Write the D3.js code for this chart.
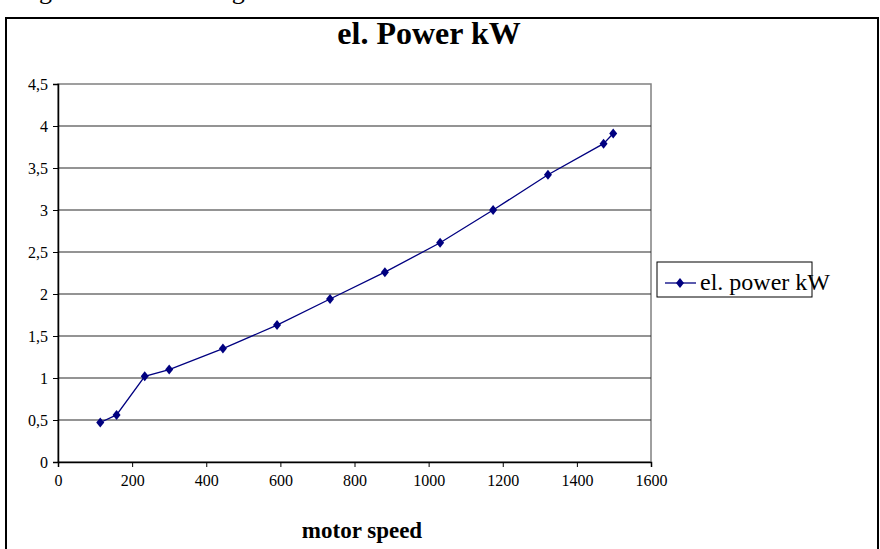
<!DOCTYPE html>
<html>
<head>
<meta charset="utf-8">
<script src="https://cdn.jsdelivr.net/npm/d3@7"></script>
<style>
  body { margin: 0; background: #fff; }
</style>
</head>
<body>
<div id="chart"></div>
<script>
// data
var motorSpeed = [114, 158, 234, 300, 445, 591, 734, 882, 1031, 1174, 1322, 1472, 1498]
var elPower = [0.47, 0.56, 1.02, 1.10, 1.35, 1.63, 1.94, 2.26, 2.61, 3.00, 3.42, 3.79, 3.91]
var xTicks = [0, 200, 400, 600, 800, 1000, 1200, 1400, 1600]
var yTicks = [0, 0.5, 1, 1.5, 2, 2.5, 3, 3.5, 4, 4.5]
var seriesName = "el. power kW"

var data = motorSpeed.map(function(s, i) { return {ser1: s, ser2: elPower[i]} })

var W = 880, H = 549
var plot = {left: 58, right: 651, top: 84, bottom: 462}
var serif = "'Liberation Serif', 'Times New Roman', serif"

var svg = d3.select("#chart")
  .append("svg")
    .attr("width", W)
    .attr("height", H)
    .style("font-family", serif)

// caption above the frame, only its lower part shows (cut off like in the original)
svg.append("text")
  .attr("x", -10)
  .attr("y", -1)
  .style("font-family", serif)
  .attr("font-size", 26)
  .text("Using the electrical drag")

// outer frame
svg.append("rect")
  .attr("x", 6).attr("y", 18)
  .attr("width", 872).attr("height", 560)
  .attr("fill", "#fff")
  .attr("stroke", "#000")
  .attr("stroke-width", 2)

var x = d3.scaleLinear().domain([0, 1600]).range([plot.left, plot.right])
var y = d3.scaleLinear().domain([0, 4.5]).range([plot.bottom, plot.top])

var fmt = function(d) { return String(d).replace(".", ",") }

// plot area border (gray right/top)
svg.append("rect")
  .attr("x", plot.left).attr("y", plot.top)
  .attr("width", plot.right - plot.left).attr("height", plot.bottom - plot.top)
  .attr("fill", "none")
  .attr("stroke", "#808080")
  .attr("stroke-width", 1.5)

// gridlines
svg.append("g")
  .selectAll("line")
  .data(yTicks.filter(function(d) { return d > 0 && d < 4.5 }))
  .enter().append("line")
    .attr("x1", plot.left).attr("x2", plot.right)
    .attr("y1", function(d) { return y(d) }).attr("y2", function(d) { return y(d) })
    .attr("stroke", "#2a2a2a")
    .attr("stroke-width", 1.2)

// y axis
var yAxis = svg.append("g")
  .attr("transform", "translate(" + plot.left + ",0)")
  .call(d3.axisLeft(y).tickValues(yTicks).tickFormat(fmt).tickSize(5).tickPadding(5))
yAxis.attr("font-family", null).attr("font-size", null)
yAxis.select(".domain").attr("stroke", "#000").attr("stroke-width", 1.5)
yAxis.selectAll("line").attr("stroke", "#000")
yAxis.selectAll("text")
  .style("font-family", serif).style("font-size", "16px").attr("fill", "#000")

// x axis
var xAxis = svg.append("g")
  .attr("transform", "translate(0," + plot.bottom + ")")
  .call(d3.axisBottom(x).tickValues(xTicks).tickFormat(fmt).tickSize(5).tickPadding(8))
xAxis.attr("font-family", null).attr("font-size", null)
xAxis.select(".domain").attr("stroke", "#000").attr("stroke-width", 1.5)
xAxis.selectAll("line").attr("stroke", "#000")
xAxis.selectAll("text")
  .style("font-family", serif).style("font-size", "16px").attr("fill", "#000")

// title
svg.append("text")
  .attr("x", 429).attr("y", 44)
  .attr("text-anchor", "middle")
  .style("font-family", serif)
  .attr("font-size", 32)
  .attr("font-weight", "bold")
  .text("el. Power kW")

// x label
svg.append("text")
  .attr("x", 362).attr("y", 538)
  .attr("text-anchor", "middle")
  .style("font-family", serif)
  .attr("font-size", 23)
  .attr("font-weight", "bold")
  .text("motor speed")

// line
var diamond = "M0,-5L4,0L0,5L-4,0Z"
svg.append("path")
  .datum(data)
  .attr("fill", "none")
  .attr("stroke", "#000080")
  .attr("stroke-width", 1.3)
  .attr("d", d3.line()
    .x(function(d) { return x(d.ser1) })
    .y(function(d) { return y(d.ser2) }))

svg.append("g")
  .selectAll("path")
  .data(data)
  .enter().append("path")
    .attr("d", diamond)
    .attr("transform", function(d) { return "translate(" + x(d.ser1) + "," + y(d.ser2) + ")" })
    .attr("fill", "#000080")

// legend
var lg = svg.append("g")
lg.append("rect")
  .attr("x", 657).attr("y", 262)
  .attr("width", 155).attr("height", 35)
  .attr("fill", "#fff")
  .attr("stroke", "#000")
lg.append("line")
  .attr("x1", 665).attr("x2", 696)
  .attr("y1", 283).attr("y2", 283)
  .attr("stroke", "#000080")
  .attr("stroke-width", 1.3)
lg.append("path")
  .attr("d", diamond)
  .attr("transform", "translate(680,283)")
  .attr("fill", "#000080")
lg.append("text")
  .attr("x", 700).attr("y", 290)
  .style("font-family", serif)
  .attr("font-size", 24)
  .text(seriesName)
</script>
</body>
</html>
